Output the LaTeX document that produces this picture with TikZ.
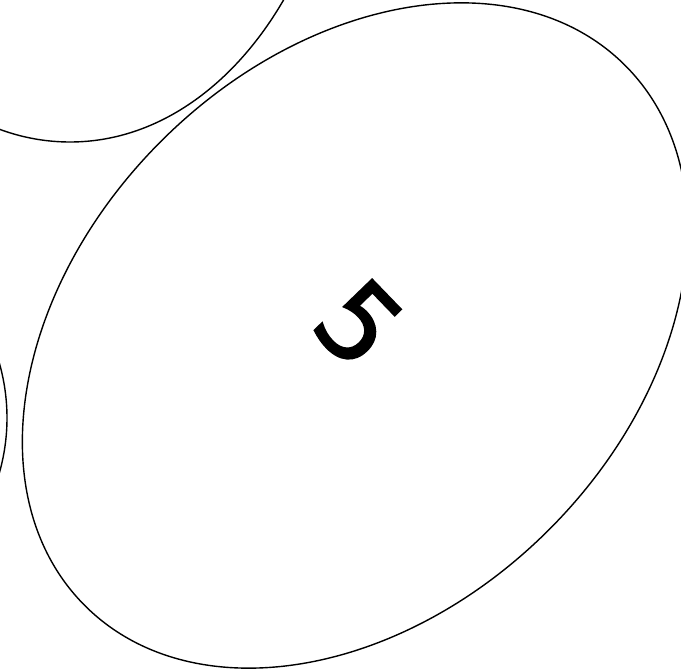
\documentclass[tikz,border=0pt]{standalone}
\usepackage{fontspec}
\setmainfont{DejaVu Sans}
\usetikzlibrary{shapes.geometric,calc}

\begin{document}
\begin{tikzpicture}[
  x=1pt, y=-1pt,
  blob/.style={ellipse, draw, line width=1.4pt, inner sep=0pt,
    minimum width=549pt, minimum height=764pt},
  tag/.style={font=\fontsize{108}{108}\selectfont\addfontfeature{FakeBold=1.6},
    inner sep=0pt}
]
  \useasboundingbox (0,0) rectangle (681,671);
  \clip (0,0) rectangle (681,671);
  \node[blob] (upper) at (70,-240) {};
  \node[blob, rotate=90] (side) at (-375,418) {};
  \node[blob, rotate=-45] (five) at (355,335.5) {};
  \node[tag, rotate=-46] (fivetag) at ($(five.center)+(4,-12)$) {5};
\end{tikzpicture}
\end{document}
